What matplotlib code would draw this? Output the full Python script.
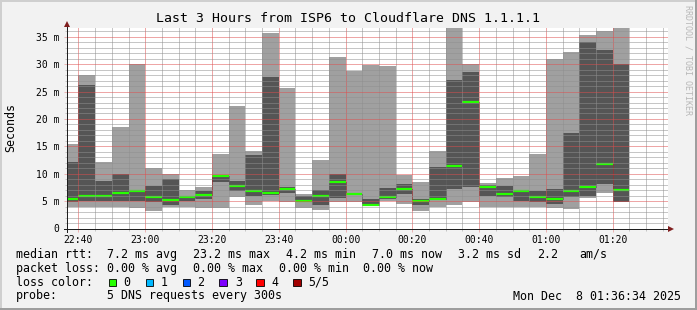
import numpy as np
import pandas as pd
import matplotlib
matplotlib.use('Agg')
import matplotlib.pyplot as plt
import matplotlib.dates as mdates
from matplotlib.lines import Line2D
from matplotlib.patches import Rectangle

plt.rcParams['font.family'] = ['DejaVu Sans Mono']

W, H = 697, 310

# 5 minute bins (start time of each bin), values in ms
bin_start = pd.date_range('2025-12-07 22:35', periods=34, freq='5min')
rtt_min = [4.0, 4.0, 4.0, 4.0, 3.8, 3.25, 4.0, 4.0, 3.8, 3.8,
           5.8, 4.3, 5.0, 4.9, 3.8, 3.4, 4.9, 4.9, 4.05, 5.0,
           4.5, 3.25, 4.0, 4.3, 4.9, 4.0, 4.0, 4.0, 4.0, 3.8,
           3.55, 5.5, 6.55, 4.9]
rtt_lo = [4.9, 5.0, 5.0, 5.0, 5.0, 4.9, 4.3, 5.0, 5.3, 8.55,
          6.9, 5.9, 6.05, 6.55, 4.8, 4.3, 5.5, 6.2, 4.1, 5.3,
          6.35, 4.3, 5.15, 7.3, 7.5, 5.9, 5.8, 5.0, 4.9, 4.45,
          5.75, 5.9, 8.1, 4.9]
rtt_med = [5.3, 5.9, 5.9, 6.4, 6.9, 5.75, 5.2, 5.7, 6.1, 9.55,
           7.8, 6.9, 6.5, 7.25, 5.1, 5.9, 8.55, 6.35, 4.35, 5.75,
           7.2, 5.1, 5.45, 11.45, 23.15, 7.6, 6.35, 6.8, 5.75, 5.45,
           6.9, 7.65, 11.85, 7.1]
rtt_hi = [12.1, 26.2, 8.7, 9.9, 7.0, 7.8, 9.0, 6.0, 6.85, 9.45,
          8.7, 13.4, 27.6, 7.5, 5.9, 7.1, 9.95, 6.5, 5.4, 7.4,
          8.1, 5.4, 11.2, 27.1, 28.6, 7.95, 7.75, 6.85, 6.85, 7.3,
          17.5, 34.0, 32.6, 30.1]
rtt_max = [15.4, 28.0, 12.1, 18.6, 30.0, 11.0, 9.95, 7.0, 7.5, 13.65,
           22.35, 14.15, 35.7, 25.6, 6.3, 12.55, 31.3, 28.8, 29.8, 29.7,
           9.75, 8.55, 14.15, 37.0, 30.0, 8.3, 9.2, 9.6, 13.6, 31.0,
           32.2, 35.4, 36.0, 36.6]

y_ticks = [0, 5, 10, 15, 20, 25, 30, 35]
y_labels = ['0', '5 m', '10 m', '15 m', '20 m', '25 m', '30 m', '35 m']

title = 'Last 3 Hours from ISP6 to Cloudflare DNS 1.1.1.1'
loss_labels = ['0', '1', '2', '3', '4', '5/5']
loss_colors = ['#26ff00', '#00b8ff', '#0059ff', '#7e00ff', '#ff0000', '#a10000']

# colours (rrdtool like)
c_back = '#f2f2f2'
c_grid = (0.56, 0.56, 0.56, 0.45)
c_mgrid = (0.87, 0.31, 0.31, 0.38)
c_arrow = (0.5, 0.12, 0.12)
c_axis = '#1f1f1f'

def fx(x):
    return x / W

def fy(y):
    return 1 - y / H

fig = plt.figure(figsize=(W / 100, H / 100), dpi=100, facecolor=c_back)
ax = fig.add_axes([fx(67), fy(228.5), 601 / W, 200.5 / H])
ax.set_facecolor('white')

x = mdates.date2num(bin_start)
bw = 5 / 1440
lo = np.array(rtt_lo)
hi = np.array(rtt_hi)
mn = np.array(rtt_min)
mx = np.array(rtt_max)

# smoke
ax.bar(x, mx - mn, bottom=mn, width=bw, align='edge', color='#a0a0a0',
       linewidth=0, antialiased=False, zorder=1)
ax.bar(x, hi - lo, bottom=lo, width=bw, align='edge', color='#555555',
       linewidth=0, antialiased=False, zorder=1.1)
# median
edges = np.append(x, x[-1] + bw)
ax.stairs(rtt_med, edges, baseline=None, color='black', linestyle=(0, (1, 1)),
          linewidth=0.72, zorder=1.5)
ax.hlines(rtt_med, x, x + bw, color=loss_colors[0], linewidth=1.6, zorder=2)

t0 = pd.Timestamp('2025-12-07 22:36:34')
ax.set_xlim(mdates.date2num(t0), mdates.date2num(t0 + pd.Timedelta('3h')))
ax.set_ylim(0, 36.6)

ax.xaxis.set_major_locator(mdates.MinuteLocator(byminute=[0, 20, 40]))
ax.xaxis.set_minor_locator(mdates.MinuteLocator(byminute=range(0, 60, 5)))
ax.xaxis.set_major_formatter(mdates.DateFormatter('%H:%M'))
ax.set_yticks(y_ticks, y_labels)
ax.set_yticks(np.arange(0, 37, 1), minor=True)

ax.set_axisbelow(False)
ax.grid(which='minor', color=c_grid, linestyle=(0, (1, 1)), linewidth=0.72)
ax.grid(which='major', color=c_mgrid, linestyle=(0, (1, 1)), linewidth=0.72)
ax.tick_params(which='major', length=2, width=0.72, color=c_mgrid,
               labelsize=7, labelcolor='black')
ax.tick_params(which='minor', length=1.5, width=0.72, color=c_grid)
ax.tick_params(axis='y', which='major', pad=3.4)
ax.tick_params(axis='x', which='major', pad=2.6)

for s in ax.spines.values():
    s.set_visible(False)

# axes with arrows
ax.plot([-3 / 601, 1.0], [0, 0], transform=ax.transAxes, color=c_axis,
        lw=0.72, clip_on=False, zorder=5)
ax.plot([0, 0], [-3 / 200.5, 1 + 3 / 200.5], transform=ax.transAxes,
        color=c_axis, lw=0.72, clip_on=False, zorder=5)
ax.plot([1 + 3 / 601], [0], marker='>', ms=4, color=c_arrow, mew=0,
        transform=ax.transAxes, clip_on=False, zorder=6)
ax.plot([0], [1 + 4 / 200.5], marker='^', ms=4, color=c_arrow, mew=0,
        transform=ax.transAxes, clip_on=False, zorder=6)

fig.text(fx(348.5), fy(19), title, ha='center', va='center', fontsize=9.5)
fig.text(fx(11), fy(128), 'Seconds', rotation=90, ha='center', va='center',
         fontsize=8.4)
fig.text(fx(688), fy(5), 'RRDTOOL / TOBI OETIKER', rotation=270,
         ha='center', va='top', fontsize=6, color='#b8b8b8')

# legend
fs = 8.4
rows = [
    (254.3, [(16, 'median rtt:'), (107.3, '7.2 ms avg'), (193.3, '23.2 ms max'),
             (286, '4.2 ms min'), (372.3, '7.0 ms now'), (458.3, '3.2 ms sd'),
             (537.3, '2.2'), (579.3, 'am/s')]),
    (268.3, [(16, 'packet loss:'), (107.3, '0.00 % avg'), (193.3, '0.00 % max'),
             (279.3, '0.00 % min'), (363.3, '0.00 % now')]),
    (282.3, [(16, 'loss color:')]),
    (296, [(16, 'probe:'), (107.3, '5 DNS requests every 300s'),
           (512.7, 'Mon Dec  8 01:36:34 2025')]),
]
for yy, items in rows:
    for xx, s in items:
        fig.text(fx(xx), fy(yy), s, ha='left', va='center', fontsize=fs)

box_x = [108.7, 145.7, 182.7, 219.3, 256, 293.3]
lab_x = [123.3, 160.7, 197.3, 235, 271.7, 308.3]
for bx, lx, lab, col in zip(box_x, lab_x, loss_labels, loss_colors):
    fig.add_artist(Rectangle((fx(bx), fy(286)), 7.5 / W, 7.5 / H,
                             transform=fig.transFigure, facecolor=col,
                             edgecolor='black', linewidth=0.6))
    fig.text(fx(lx), fy(282.3), lab, ha='left', va='center', fontsize=fs)

# 3d border
fig.add_artist(Line2D([0, 1], [fy(1), fy(1)], color='#cfcfcf', lw=1.44,
                      transform=fig.transFigure))
fig.add_artist(Line2D([fx(1), fx(1)], [0, 1], color='#cfcfcf', lw=1.44,
                      transform=fig.transFigure))
fig.add_artist(Line2D([0, 1], [fy(309), fy(309)], color='#9e9e9e', lw=1.44,
                      transform=fig.transFigure))
fig.add_artist(Line2D([fx(696), fx(696)], [0, 1], color='#9e9e9e', lw=1.44,
                      transform=fig.transFigure))

fig.savefig('out.png', dpi=100, facecolor=c_back)
